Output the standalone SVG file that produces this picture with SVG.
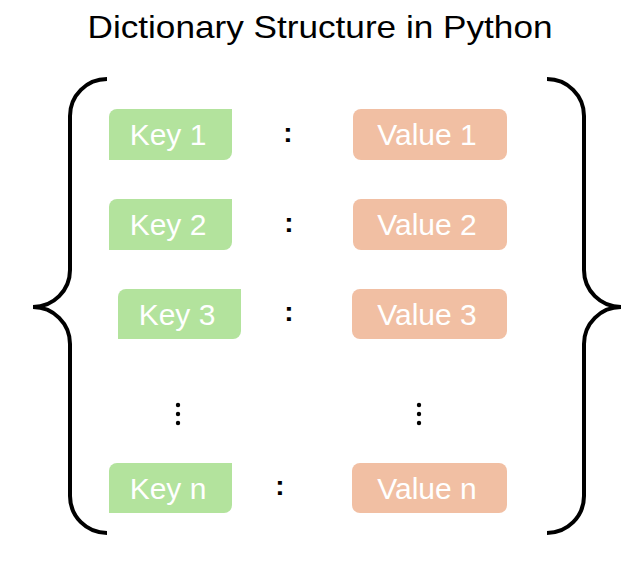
<svg xmlns="http://www.w3.org/2000/svg" width="636" height="564" viewBox="0 0 636 564">
<style>
.key{fill:#B3E39D}
.val{fill:#F1BFA3}
.lbl{font-family:"Liberation Sans",Arial,sans-serif;font-size:30px;fill:#FFFFFF;text-anchor:middle}
.colon{font-family:"Liberation Sans",Arial,sans-serif;font-size:28px;font-weight:bold;fill:#000;text-anchor:middle}
.brace{fill:none;stroke:#000;stroke-width:4;stroke-linecap:butt}
.title{font-family:"Liberation Sans",Arial,sans-serif;font-size:32px;fill:#000;text-anchor:middle}
</style>
<rect width="636" height="564" fill="#FFFFFF"/>
<text class="title" x="320" y="38" textLength="465" lengthAdjust="spacingAndGlyphs">Dictionary Structure in Python</text>
<g id="braces">
<path class="brace" d="M107,79 A37,37 0 0 0 70,116 L70,270 A37,37 0 0 1 33,307 A37,37 0 0 1 70,344 L70,496 A37,37 0 0 0 107,533"/>
<path class="brace" d="M547,79 A37,37 0 0 1 584,116 L584,270 A37,37 0 0 0 621,307 A37,37 0 0 0 584,344 L584,496 A37,37 0 0 1 547,533"/>
</g>
<g id="key1"><path class="key" d="M117,109 H232 V152 A8,8 0 0 1 224,160 H109 V117 A8,8 0 0 1 117,109 Z"/><text class="lbl" x="168" y="145">Key 1</text></g>
<g id="key2"><path class="key" d="M117,199 H232 V242 A8,8 0 0 1 224,250 H109 V207 A8,8 0 0 1 117,199 Z"/><text class="lbl" x="168" y="235">Key 2</text></g>
<g id="key3"><path class="key" d="M126,289 H241 V331 A8,8 0 0 1 233,339 H118 V297 A8,8 0 0 1 126,289 Z"/><text class="lbl" x="177" y="325">Key 3</text></g>
<g id="keyn"><path class="key" d="M117,463 H232 V505 A8,8 0 0 1 224,513 H109 V471 A8,8 0 0 1 117,463 Z"/><text class="lbl" x="168" y="499">Key n</text></g>
<g id="value1"><rect class="val" x="353" y="109" width="154" height="51" rx="8"/><text class="lbl" x="427" y="145">Value 1</text></g>
<g id="value2"><rect class="val" x="353" y="199" width="154" height="51" rx="8"/><text class="lbl" x="427" y="235">Value 2</text></g>
<g id="value3"><rect class="val" x="352" y="289" width="155" height="50" rx="8"/><text class="lbl" x="427" y="325">Value 3</text></g>
<g id="valuen"><rect class="val" x="352" y="463" width="155" height="50" rx="8"/><text class="lbl" x="427" y="499">Value n</text></g>
<g id="colons">
<text class="colon" x="288" y="142">:</text>
<text class="colon" x="289" y="232">:</text>
<text class="colon" x="289" y="321">:</text>
<text class="colon" x="280" y="495">:</text>
</g>
<g id="ellipses" fill="#000">
<circle cx="178" cy="405" r="2.2"/><circle cx="178" cy="414" r="2.2"/><circle cx="178" cy="423" r="2.2"/>
<circle cx="419" cy="405" r="2.2"/><circle cx="419" cy="414" r="2.2"/><circle cx="419" cy="423" r="2.2"/>
</g>
</svg>
